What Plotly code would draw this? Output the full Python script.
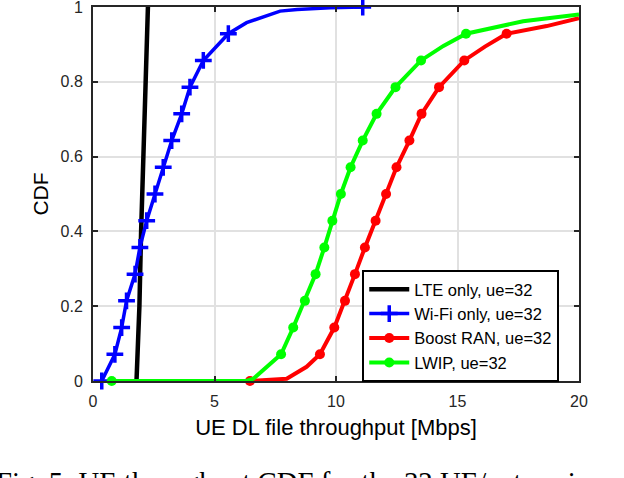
import plotly.graph_objects as go

# ---------------- data ----------------
lte_x = [1.79, 1.85, 1.91, 1.98, 2.06, 2.17, 2.21, 2.26]
lte_y = [0.0, 0.10, 0.20, 0.40, 0.60, 0.80, 0.90, 1.00]

k14 = [0, 1/14, 2/14, 3/14, 4/14, 5/14, 6/14, 7/14, 8/14, 9/14, 10/14, 11/14, 12/14, 13/14, 1.0]

wifi_mark_x = [0.36, 0.90, 1.18, 1.38, 1.73, 1.93, 2.21, 2.55, 2.89, 3.24, 3.65, 3.99, 4.54, 5.57, 11.1]
wifi_mark_y = k14
wifi_tail_x = [6.32, 7.0, 7.7, 8.4, 9.75]
wifi_tail_y = [0.958, 0.974, 0.989, 0.993, 0.998]

boost_mark_x = [6.46, 9.34, 9.93, 10.37, 10.78, 11.19, 11.63, 12.06, 12.49, 13.02, 13.52, 14.24, 15.28, 17.02]
boost_mark_y = k14[:14]
boost_line_x = [6.46, 7.2, 7.97, 8.79, 9.34, 9.93, 10.37, 10.78, 11.19, 11.63, 12.06, 12.49, 13.02,
                13.52, 14.24, 15.28, 16.13, 17.02, 18.67, 20.0]
boost_line_y = [0.0, 0.002, 0.006, 0.038, 1/14, 2/14, 3/14, 4/14, 5/14, 6/14, 7/14, 8/14, 9/14,
                10/14, 11/14, 12/14, 0.894, 13/14, 0.949, 0.970]

lwip_mark_x = [0.77, 7.74, 8.24, 8.72, 9.16, 9.52, 9.85, 10.2, 10.6, 11.1, 11.67, 12.45, 13.5, 15.35]
lwip_mark_y = k14[:14]
lwip_line_x = [0.77, 6.3, 6.6, 7.0, 7.74, 8.24, 8.72, 9.16, 9.52, 9.85, 10.2, 10.6, 11.1, 11.67,
               12.45, 13.5, 14.42, 15.35, 17.7, 20.0]
lwip_line_y = [0.0, 0.0, 0.006, 0.028, 1/14, 2/14, 3/14, 4/14, 5/14, 6/14, 7/14, 8/14, 9/14, 10/14,
               11/14, 12/14, 0.896, 13/14, 0.962, 0.980]

names = ["LTE only, ue=32", "Wi-Fi only, ue=32", "Boost RAN, ue=32", "LWIP, ue=32"]
x_ticks = [0, 5, 10, 15, 20]
y_ticks = [0, 0.2, 0.4, 0.6, 0.8, 1.0]
y_tick_text = ["0", "0.2", "0.4", "0.6", "0.8", "1"]

caption = "Fig. 5: UE throughput CDF for the 32 UE/enterprise case"

# ---------------- figure ----------------
BLACK, BLUE, RED, GREEN = "#000000", "#0000FF", "#FF0000", "#00FF00"
fig = go.Figure()

# LTE
fig.add_trace(go.Scatter(x=lte_x, y=lte_y, mode="lines", line=dict(color=BLACK, width=4.5),
                         name=names[0], legendrank=1))
# Wi-Fi
fig.add_trace(go.Scatter(x=wifi_mark_x[:14] + wifi_tail_x + wifi_mark_x[14:],
                         y=wifi_mark_y[:14] + wifi_tail_y + wifi_mark_y[14:],
                         mode="lines", line=dict(color=BLUE, width=3.5), showlegend=False))
fig.add_trace(go.Scatter(x=wifi_mark_x, y=wifi_mark_y, mode="markers", showlegend=False,
                         marker=dict(symbol="cross-thin", size=12, line=dict(color=BLUE, width=3.5)),
                         cliponaxis=False))
fig.add_trace(go.Scatter(x=[None], y=[None], mode="lines+markers", name=names[1], legendrank=2,
                         line=dict(color=BLUE, width=3.5),
                         marker=dict(symbol="cross-thin", size=12, line=dict(color=BLUE, width=3.5))))
# Boost RAN
fig.add_trace(go.Scatter(x=boost_line_x, y=boost_line_y, mode="lines",
                         line=dict(color=RED, width=4), showlegend=False))
fig.add_trace(go.Scatter(x=boost_mark_x, y=boost_mark_y, mode="markers", showlegend=False,
                         marker=dict(symbol="circle", size=10, color=RED), cliponaxis=False))
fig.add_trace(go.Scatter(x=[None], y=[None], mode="lines+markers", name=names[2], legendrank=3,
                         line=dict(color=RED, width=4), marker=dict(symbol="circle", size=10, color=RED)))
# LWIP
fig.add_trace(go.Scatter(x=lwip_line_x, y=lwip_line_y, mode="lines",
                         line=dict(color=GREEN, width=4), showlegend=False))
fig.add_trace(go.Scatter(x=lwip_mark_x, y=lwip_mark_y, mode="markers", showlegend=False,
                         marker=dict(symbol="circle", size=10, color=GREEN), cliponaxis=False))
fig.add_trace(go.Scatter(x=[None], y=[None], mode="lines+markers", name=names[3], legendrank=4,
                         line=dict(color=GREEN, width=4), marker=dict(symbol="circle", size=10, color=GREEN)))

AX = "#262626"
axis_common = dict(showline=True, linecolor=AX, linewidth=2, mirror="ticks",
                   ticks="inside", ticklen=5, tickwidth=1.5, tickcolor=AX,
                   showgrid=True, gridcolor="#E1E1E1", gridwidth=1.5, zeroline=False,
                   automargin=False, ticklabeloverflow="allow",
                   tickfont=dict(family="Liberation Sans, Arial, sans-serif", size=16, color=AX))

fig.update_xaxes(range=[0, 20], tickvals=x_ticks, ticktext=[str(v) for v in x_ticks],
                 ticklabelstandoff=5,
                 title=dict(text="UE DL file throughput [Mbps]", standoff=10,
                            font=dict(family="Liberation Sans, Arial, sans-serif", size=22, color="#000000")),
                 **axis_common)
fig.update_yaxes(range=[0, 1], tickvals=y_ticks, ticktext=y_tick_text,
                 ticklabelstandoff=5,
                 title=dict(text="CDF", standoff=6,
                            font=dict(family="Liberation Sans, Arial, sans-serif", size=21, color="#000000")),
                 **axis_common)

fig.update_layout(
    width=624, height=478,
    margin=dict(l=93, r=45, t=7, b=97),
    plot_bgcolor="white", paper_bgcolor="white",
    legend=dict(x=0.554, y=0.297, xanchor="left", yanchor="top",
                bgcolor="white", bordercolor="#000000", borderwidth=2,
                font=dict(family="Liberation Sans, Arial, sans-serif", size=16.5, color="#000000"),
                tracegroupgap=0, itemwidth=40),
    annotations=[dict(text=caption, xref="paper", yref="paper", x=-0.204, y=-0.222,
                      xanchor="left", yanchor="top", showarrow=False,
                      font=dict(family="Liberation Serif, Times New Roman, serif", size=28.8, color="#000000"))],
)

fig.write_html("out.html", config={"displayModeBar": False},
               post_script="document.body.style.margin='0';")
